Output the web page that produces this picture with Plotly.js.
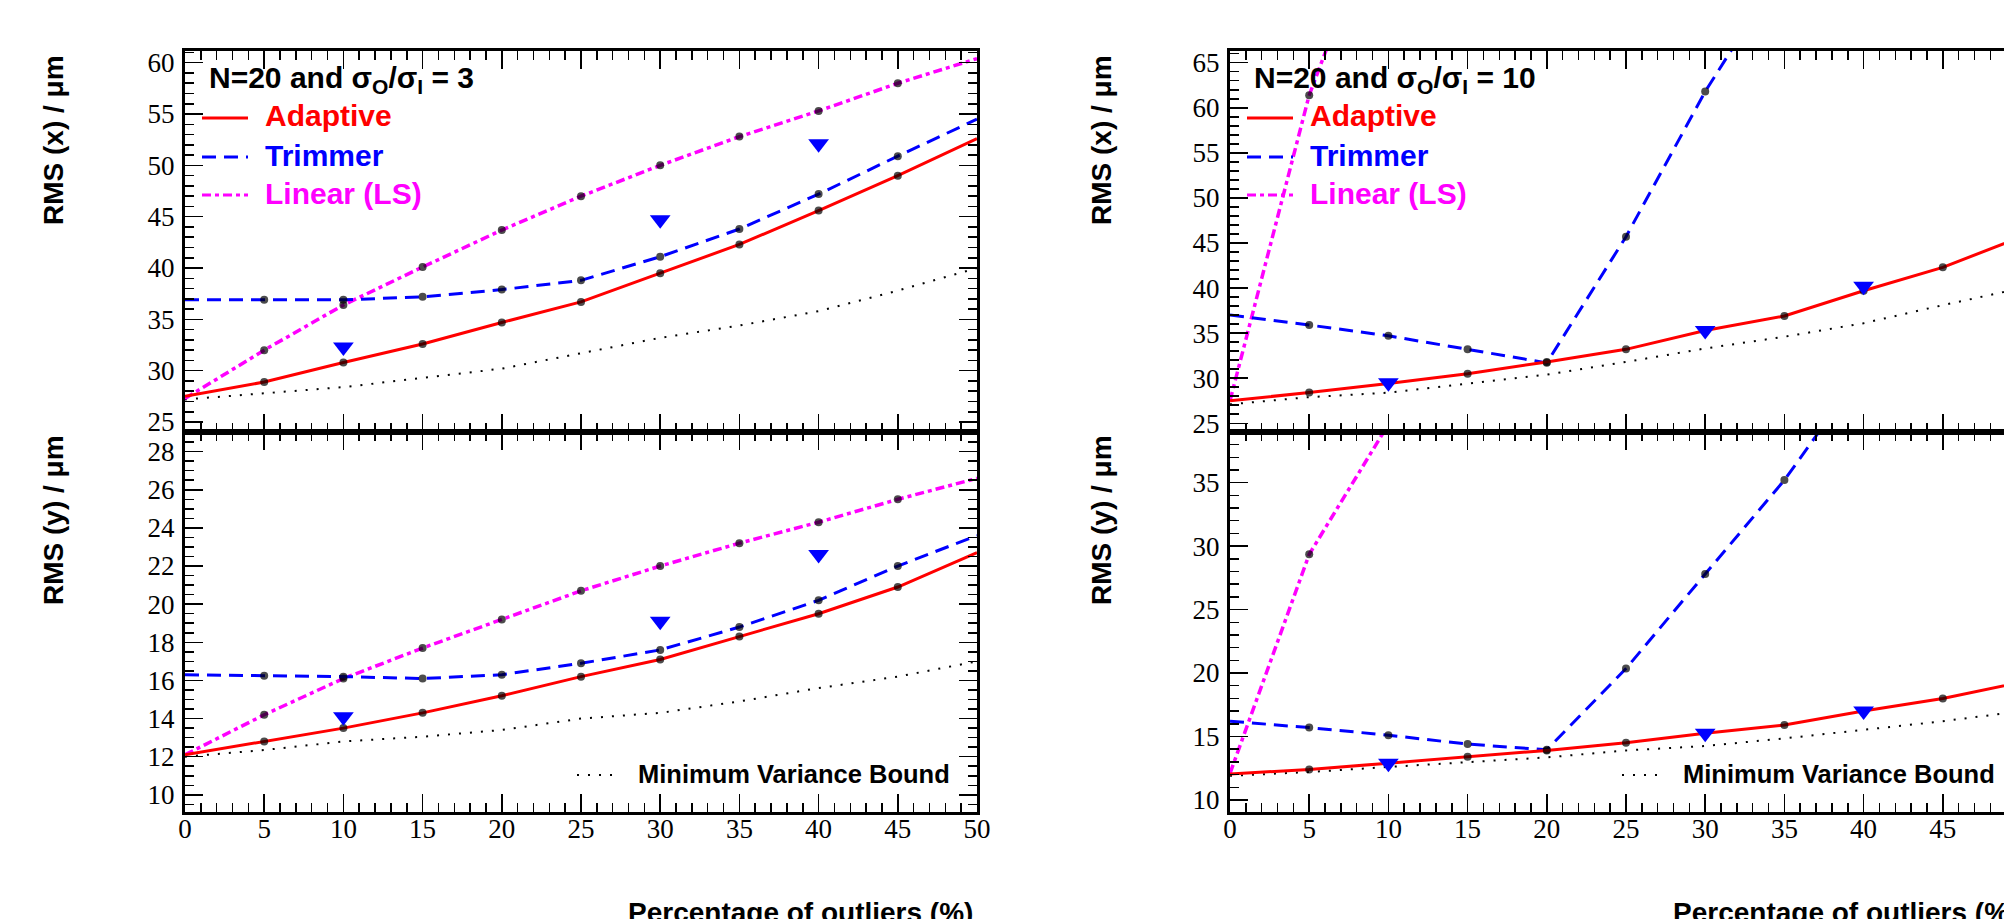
<!DOCTYPE html>
<html><head><meta charset="utf-8">
<script src="https://cdn.plot.ly/plotly-3.0.1.min.js"></script>
<style>html,body{margin:0;padding:0;overflow:hidden;background:#fff}#chart{width:2040px;height:919px}</style>
</head><body><div id="chart"></div>
<script>
// ---------- data ----------
const pct = [0,5,10,15,20,25,30,35,40,45,50];
const triPct = [10,30,40];

// sigma_O/sigma_I = 3
const adaptX3 = [27.5, 28.9, 30.8, 32.6, 34.7, 36.7, 39.5, 42.3, 45.6, 49.0, 52.6];
const trimX3  = [36.9, 36.9, 36.9, 37.2, 37.9, 38.8, 41.1, 43.8, 47.2, 50.9, 54.5];
const linX3   = [27.3, 32.0, 36.4, 40.1, 43.7, 47.0, 50.0, 52.8, 55.3, 58.0, 60.4];
const mvbX3   = [27.2, 27.8, 28.4, 29.3, 30.2, 31.7, 33.2, 34.4, 35.8, 37.8, 40.0];
const triX3   = [32.3, 44.7, 52.1];

const adaptY3 = [12.1, 12.8, 13.5, 14.3, 15.2, 16.2, 17.1, 18.3, 19.5, 20.9, 22.7];
const trimY3  = [16.3, 16.25, 16.2, 16.1, 16.3, 16.9, 17.6, 18.8, 20.2, 22.0, 23.6];
const linY3   = [12.1, 14.2, 16.1, 17.7, 19.2, 20.7, 22.0, 23.2, 24.3, 25.5, 26.6];
const mvbY3   = [12.0, 12.35, 12.8, 13.05, 13.4, 14.0, 14.3, 14.9, 15.6, 16.2, 17.0];
const triY3   = [14.1, 19.1, 22.6];

// sigma_O/sigma_I = 10
const adaptX10 = [27.5, 28.4, 29.4, 30.5, 31.8, 33.2, 35.3, 36.9, 39.7, 42.3, 45.7];
const trimX10  = [37.0, 35.9, 34.7, 33.2, 31.7, 45.7, 61.8, 75.7];
const linX10   = [27.5, 61.4, 84.7];
const mvbX10   = [27.1, 27.9, 28.4, 29.4, 30.4, 31.8, 33.3, 34.6, 36.1, 38.1, 40.0];
const triX10   = [29.5, 35.3, 40.2];

const adaptY10 = [12.05, 12.4, 12.9, 13.4, 13.9, 14.5, 15.25, 15.9, 17.0, 18.0, 19.3];
const trimY10  = [16.2, 15.7, 15.1, 14.4, 13.95, 20.35, 27.8, 35.2, 43.9];
const linY10   = [12.1, 29.35, 39.6];
const mvbY10   = [11.9, 12.2, 12.6, 13.0, 13.35, 13.9, 14.25, 14.85, 15.5, 16.2, 17.0];
const triY10   = [12.9, 15.25, 17.0];

const seriesNames = ['Adaptive', 'Trimmer', 'Linear (LS)'];
const mvbName = 'Minimum Variance Bound';
const xTitle = 'Percentage of outliers (%)';
const yTitleX = 'RMS (x) / μm';
const yTitleY = 'RMS (y) / μm';
const panelTitles = ['N=20 and σ<sub>O</sub>/σ<sub>I</sub> = 3', 'N=20 and σ<sub>O</sub>/σ<sub>I</sub> = 10'];

// ---------- styles ----------
const W = 2040, H = 919;
const px = v => v / W, py = v => 1 - v / H;
const RED = '#ff0000', BLUE = '#0000ff', MAG = '#ff00ff';
const DASH_T = '14px,8px';
const DASH_L = '9px,4px,4px,4px';
const DASH_M = '2px,9px';

const traces = [];
function series(y, color, dash, width, xa, ya) {
  const x = pct.slice(0, y.length);
  traces.push({
    x: x, y: y, xaxis: xa, yaxis: ya, type: 'scatter', mode: 'lines+markers',
    line: {color: color, dash: dash, width: width},
    marker: {color: 'black', size: x.map(v => (v > 0 && v < 50) ? 8 : 0), line: {width: 0}},
    showlegend: false, hoverinfo: 'skip'
  });
}
function mvb(y, xa, ya) {
  traces.push({x: pct, y: y, xaxis: xa, yaxis: ya, type: 'scatter', mode: 'lines',
    line: {color: 'black', dash: DASH_M, width: 2}, showlegend: false, hoverinfo: 'skip'});
}
function tri(y, xa, ya) {
  traces.push({x: triPct, y: y, xaxis: xa, yaxis: ya, type: 'scatter', mode: 'markers',
    marker: {symbol: 'triangle-down', color: BLUE, size: 18, line: {width: 0}},
    showlegend: false, hoverinfo: 'skip'});
}

// left top: x2/y2 ; left bottom: x/y ; right top: x4/y4 ; right bottom: x3/y3
mvb(mvbX3, 'x2', 'y2'); series(linX3, MAG, DASH_L, 3.5, 'x2', 'y2'); series(trimX3, BLUE, DASH_T, 3, 'x2', 'y2'); series(adaptX3, RED, 'solid', 3, 'x2', 'y2'); tri(triX3, 'x2', 'y2');
mvb(mvbY3, 'x', 'y'); series(linY3, MAG, DASH_L, 3.5, 'x', 'y'); series(trimY3, BLUE, DASH_T, 3, 'x', 'y'); series(adaptY3, RED, 'solid', 3, 'x', 'y'); tri(triY3, 'x', 'y');
mvb(mvbX10, 'x4', 'y4'); series(linX10, MAG, DASH_L, 3.5, 'x4', 'y4'); series(trimX10, BLUE, DASH_T, 3, 'x4', 'y4'); series(adaptX10, RED, 'solid', 3, 'x4', 'y4'); tri(triX10, 'x4', 'y4');
mvb(mvbY10, 'x3', 'y3'); series(linY10, MAG, DASH_L, 3.5, 'x3', 'y3'); series(trimY10, BLUE, DASH_T, 3, 'x3', 'y3'); series(adaptY10, RED, 'solid', 3, 'x3', 'y3'); tri(triY10, 'x3', 'y3');

const tickFont = {family: 'Liberation Serif, Times New Roman, serif', size: 27, color: 'black'};
function xax(domain, anchor, labels, match) {
  const a = {domain: domain, anchor: anchor, range: [0, 50], dtick: 5, tick0: 0,
    ticks: 'inside', ticklen: 18, tickwidth: 1.5, tickcolor: 'black',
    minor: {dtick: 1, ticks: 'inside', ticklen: 9, tickwidth: 1.5, tickcolor: 'black'},
    showline: true, linewidth: 3, linecolor: 'black', mirror: 'allticks',
    showgrid: false, zeroline: false, showticklabels: labels, tickfont: tickFont,
    ticklabelstandoff: -9, fixedrange: true};
  if (match) a.matches = match;
  return a;
}
function yax(domain, anchor, range, dt, mdt) {
  return {domain: domain, anchor: anchor, range: range, dtick: dt, tick0: 0,
    ticks: 'inside', ticklen: 18, tickwidth: 1.5, tickcolor: 'black',
    minor: {dtick: mdt, ticks: 'inside', ticklen: 9, tickwidth: 1.5, tickcolor: 'black'},
    showline: true, linewidth: 3, linecolor: 'black', mirror: 'allticks',
    showgrid: false, zeroline: false, tickfont: tickFont, ticklabelstandoff: 2, fixedrange: true};
}
const LX = [px(185), px(977)], RX = [px(1230), px(2022)];
const TY = [py(432), py(51)], BY = [py(812), py(432)];

const layout = {
  width: W, height: H, margin: {l: 0, r: 0, t: 0, b: 0},
  paper_bgcolor: 'white', plot_bgcolor: 'white', showlegend: false,
  xaxis: xax(LX, 'y', true), yaxis: yax(BY, 'x', [9.1, 29.03], 2, 0.5),
  xaxis2: xax(LX, 'y2', false, 'x'), yaxis2: yax(TY, 'x2', [24.03, 61.14], 5, 1),
  xaxis3: xax(RX, 'y3', true), yaxis3: yax(BY, 'x3', [9.05, 38.99], 5, 1),
  xaxis4: xax(RX, 'y4', false, 'x3'), yaxis4: yax(TY, 'x4', [24.03, 66.3], 5, 1),
  annotations: [], shapes: []
};

const sansB = s => ({family: 'Liberation Sans, Arial, sans-serif', size: s, color: 'black'});
function ann(text, x, y, font, opts) {
  layout.annotations.push(Object.assign({xref: 'paper', yref: 'paper', x: px(x), y: py(y), text: text,
    showarrow: false, font: font, xanchor: 'left', yanchor: 'middle'}, opts || {}));
}
function sample(x0, x1, y, color, dash, width) {
  layout.shapes.push({type: 'line', xref: 'paper', yref: 'paper', x0: px(x0), x1: px(x1), y0: py(y), y1: py(y),
    line: {color: color, dash: dash, width: width}});
}
const colors = [RED, BLUE, MAG], dashes = ['solid', DASH_T, DASH_L];
const entryY = [116, 155, 193];
[[185, 0], [1230, 1]].forEach(([fx, i]) => {
  ann('<b>' + panelTitles[i] + '</b>', fx + 22, 80, sansB(30));
  seriesNames.forEach((n, k) => {
    sample(fx + 17, fx + 63, entryY[k] + 2, colors[k], dashes[k], 3);
    ann('<b>' + n + '</b>', fx + 78, entryY[k], Object.assign(sansB(30), {color: colors[k]}));
  });
  sample(fx + 392, fx + 428, 775, 'black', DASH_M, 2);
  ann('<b>' + mvbName + '</b>', fx + 451, 774, sansB(25.5));
  ann('<b>' + xTitle + '</b>', fx + 790, 895, sansB(28), {xanchor: 'right', yanchor: 'top'});
});
[[53, 0], [1101, 1]].forEach(([cx]) => {
  ann('<b>' + yTitleX + '</b>', cx, 140, sansB(28), {xanchor: 'center', textangle: -90});
  ann('<b>' + yTitleY + '</b>', cx, 520, sansB(28), {xanchor: 'center', textangle: -90});
});

Plotly.newPlot('chart', traces, layout, {staticPlot: true, displayModeBar: false});
</script>
</body></html>
